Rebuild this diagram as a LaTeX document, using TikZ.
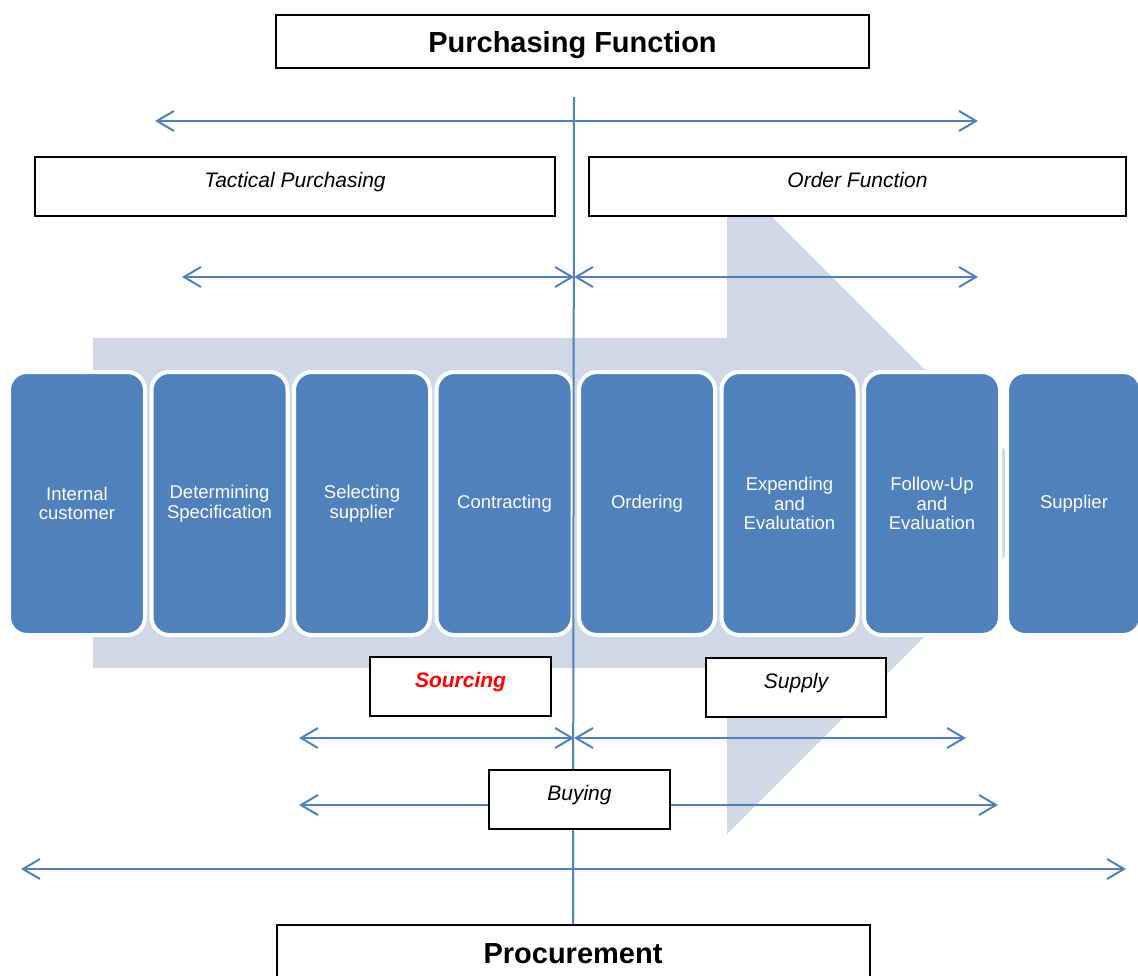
\documentclass[tikz,border=0pt]{standalone}
\usepackage{fontspec}
\setmainfont{Liberation Sans}
\usetikzlibrary{positioning, arrows.meta}
\definecolor{stepblue}{HTML}{4F81BD}
\definecolor{flowgray}{HTML}{D0D8E8}
\tikzset{
stage/.style = {rectangle, rounded corners = 18pt, fill = stepblue, draw = white,
   line width = 4pt, minimum width = 136pt, minimum height = 263pt, inner sep = 2pt,
   text = white, align = center, font = \fontsize{18.5}{19.5}\selectfont},
title/.style = {rectangle, draw, line width = 2pt, fill = white, minimum height = 53pt,
   text height = 29pt, text depth = 6pt, font = \fontsize{29}{32}\selectfont\bfseries},
phase/.style = {rectangle, draw, line width = 2pt, fill = white, minimum height = 59pt,
   text height = 15pt, text depth = 13pt, font = \fontsize{21}{24}\selectfont\itshape},
span/.style = {{Straight Barb[length = 17pt, width = 20pt]}-{Straight Barb[length = 17pt, width = 20pt]},
   line width = 2pt, draw = stepblue},
divider/.style = {line width = 2pt, draw = stepblue}
}

\begin{document}
\begin{tikzpicture}[x = 1pt, y = -1pt]
\useasboundingbox (0,0) rectangle (1138,976);

%% Process arrow in the background
\fill [flowgray] (93,338) -- (727,338) -- (727,172) -- (1058,503) -- (727,834)
   -- (727,668) -- (93,668) -- cycle;

%% Titles
\node [title, minimum width = 593pt] (purch) at (572.5,41.5) {Purchasing Function};
\node [title, minimum width = 593pt] (proc) at (573,951.5) {Procurement};

%% Ranges
\coordinate (r1l) at (155,121);
\coordinate (r1r) at (978,121);
\coordinate (r2l) at (182,277);
\coordinate (r2m) at (574,277);
\coordinate (r2r) at (978,277);
\coordinate (r3l) at (299,738);
\coordinate (r3m) at (574,738);
\coordinate (r3r) at (966,738);
\coordinate (r4l) at (299,805);
\coordinate (r4r) at (998,805);
\coordinate (r5l) at (21,869);
\coordinate (r5r) at (1126,869);

\draw [span] (r1l) -- (r1r);
\draw [span] (r2l) -- (r2m);
\draw [span] (r2m) -- (r2r);
\draw [span] (r3l) -- (r3m);
\draw [span] (r3m) -- (r3r);
\draw [span] (r4l) -- (r4r);
\draw [span] (r5l) -- (r5r);

%% Process steps
\node [stage] (cust) at (77,503.5) {Internal\\customer};
\node [stage] (spec) [right = 2.5pt of cust] {Determining\\Specification};
\node [stage] (sel) [right = 2.5pt of spec] {Selecting\\supplier};
\node [stage] (contr) [right = 2.5pt of sel] {Contracting};
\node [stage] (ord) [right = 2.5pt of contr] {Ordering};
\node [stage] (exp) [right = 2.5pt of ord] {Expending\\and\\Evalutation};
\node [stage] (fol) [right = 2.5pt of exp] {Follow-Up\\and\\Evaluation};
\node [stage, minimum width = 134pt] (supl) [right = 3pt of fol] {Supplier};

%% Divider
\coordinate (top) at (574,97);
\draw [divider] (top) -- (proc.north);

%% Phases
\node [phase, minimum width = 520pt] (tac) at (295,186.5) {Tactical Purchasing};
\node [phase, minimum width = 537pt] (ordf) at (857.5,186.5) {Order Function};
\node [phase, minimum width = 181pt, font = \fontsize{21}{24}\selectfont\bfseries\itshape,
   text = red] (sou) at (460.5,686.5) {Sourcing};
\node [phase, minimum width = 180pt] (sup) at (796,687.5) {Supply};
\node [phase, minimum width = 181pt] (buy) at (579.5,799.5) {Buying};

\end{tikzpicture}
\end{document}
